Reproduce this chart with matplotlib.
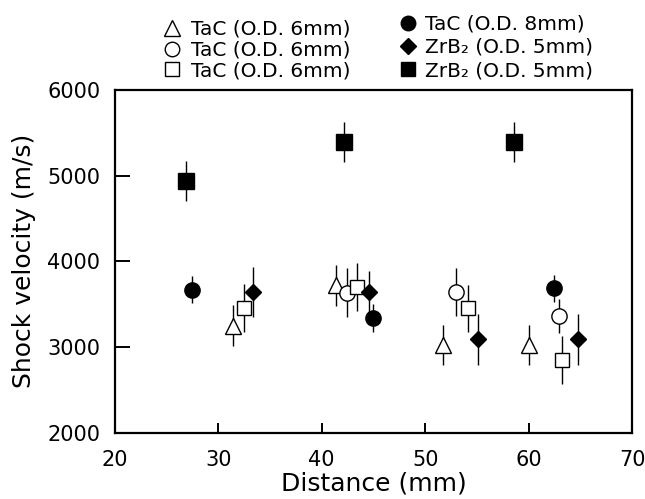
import matplotlib
matplotlib.use("Agg")
import matplotlib.pyplot as plt
from matplotlib.lines import Line2D

# ==========================================================
# DATA
# ==========================================================

labels = [
    "TaC (O.D. 6mm)",
    "TaC (O.D. 6mm)",
    "TaC (O.D. 6mm)",
    "TaC (O.D. 8mm)",
    "ZrB\u2082 (O.D. 5mm)",
    "ZrB\u2082 (O.D. 5mm)",
]

tri_x = [31.4, 41.4, 51.7, 60.0]
tri_y = [3250, 3720, 3020, 3020]
tri_err = [240, 240, 235, 235]

ocirc_x = [42.4, 53.0, 62.9]
ocirc_y = [3635, 3645, 3365]
ocirc_err = [285, 280, 200]

osq_x = [32.5, 43.4, 54.1, 63.2]
osq_y = [3450, 3700, 3450, 2850]
osq_err = [280, 275, 275, 280]

fcirc_x = [27.5, 45.0, 62.45]
fcirc_y = [3670, 3340, 3685]
fcirc_err = [160, 160, 155]

dia_x = [33.4, 44.6, 55.1, 64.8]
dia_y = [3640, 3645, 3090, 3090]
dia_err = [295, 240, 300, 300]

fsq_x = [26.9, 42.2, 58.6]
fsq_y = [4940, 5395, 5395]
fsq_err = [235, 235, 235]

# ==========================================================
# PLOT
# ==========================================================

fig = plt.figure(figsize=(6.45, 4.99), dpi=100)
ax = fig.add_axes([0.178, 0.133, 0.802, 0.687])

series = [
    (tri_x, tri_y, tri_err, "^", "white", 11.5),
    (ocirc_x, ocirc_y, ocirc_err, "o", "white", 11),
    (osq_x, osq_y, osq_err, "s", "white", 10.5),
    (fcirc_x, fcirc_y, fcirc_err, "o", "black", 11),
    (dia_x, dia_y, dia_err, "D", "black", 8.5),
    (fsq_x, fsq_y, fsq_err, "s", "black", 11),
]

for x, y, e, m, fc, ms in series:
    ax.errorbar(
        x, y, yerr=e,
        fmt=m, ms=ms,
        mfc=fc, mec="black", mew=1.0,
        ecolor="black", elinewidth=1.0, capsize=0,
    )

ax.set_xlim(20, 70)
ax.set_ylim(2000, 6000)
ax.set_xticks([20, 30, 40, 50, 60, 70])
ax.set_yticks([2000, 3000, 4000, 5000, 6000])

for s in ax.spines.values():
    s.set_linewidth(1.6)

ax.tick_params(axis="both", direction="in", labelsize=15, width=1.4)
ax.tick_params(axis="y", length=11, pad=10.5)
ax.tick_params(axis="x", length=7.5, pad=12.5)

ax.set_xlabel("Distance (mm)", fontsize=18, labelpad=1)
ax.set_ylabel("Shock velocity (m/s)", fontsize=18, labelpad=8)

# ==========================================================
# LEGEND (two columns above the axes)
# ==========================================================

handles = []
for x, y, e, m, fc, ms in series:
    handles.append(Line2D(
        [], [], ls="none", marker=m, ms=ms * 0.95,
        mfc=fc, mec="black", mew=1.0,
    ))

fig.legend(
    handles[:3], labels[:3],
    loc="upper left", bbox_to_anchor=(0.2505, 0.960),
    frameon=False, fontsize=14.5,
    handlelength=1.0, handletextpad=0.45,
    labelspacing=0.08, borderpad=0, borderaxespad=0,
)

fig.legend(
    handles[3:], labels[3:],
    loc="upper left", bbox_to_anchor=(0.6165, 0.970),
    frameon=False, fontsize=14.5,
    handlelength=1.0, handletextpad=0.35,
    labelspacing=0.2, borderpad=0, borderaxespad=0,
)

fig.savefig("out.png", dpi=100)
